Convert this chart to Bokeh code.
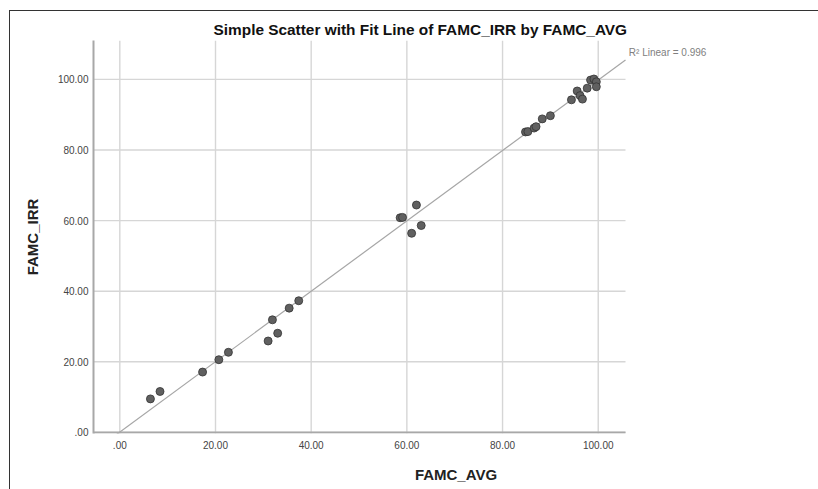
from bokeh.plotting import figure
from bokeh.models import Range1d, FixedTicker, ColumnDataSource
from bokeh.core.properties import value
from bokeh.embed import file_html
from bokeh.resources import INLINE

# ---- data ----
famc_avg = [6.4, 8.4, 17.3, 20.7, 22.7, 31.0, 33.0, 31.9, 35.4, 37.4,
            58.6, 59.1, 62.0, 63.0, 61.0,
            84.8, 85.3, 86.6, 87.0, 88.3, 90.0, 94.4, 95.6, 96.2, 96.7,
            97.7, 98.4, 99.1, 99.6, 99.6]
famc_irr = [9.5, 11.6, 17.1, 20.6, 22.7, 25.9, 28.1, 31.9, 35.2, 37.3,
            60.8, 60.9, 64.4, 58.6, 56.4,
            85.1, 85.2, 86.2, 86.6, 88.8, 89.7, 94.2, 96.7, 95.4, 94.4,
            97.5, 99.8, 100.1, 99.3, 97.9]

fit_slope = 0.997
fit_intercept = 0.1
r2_text = "R\u00b2 Linear = 0.996"

x_ticks = [0, 20, 40, 60, 80, 100]
x_tick_labels = [".00", "20.00", "40.00", "60.00", "80.00", "100.00"]
y_ticks = [0, 20, 40, 60, 80, 100]
y_tick_labels = [".00", "20.00", "40.00", "60.00", "80.00", "100.00"]

# plotted area of the chart (axis extents)
x_lo, x_hi = -5.5, 105.7
y_lo, y_hi = -0.3, 111.0

FONT = "Liberation Sans"

W, H = 818, 489
ML, MT, MB = 93, 40, 56
px_per_x = (625 - 93) / (x_hi - x_lo)
frame_w = W - ML
x_view_hi = x_lo + frame_w / px_per_x

p = figure(width=W, height=H, output_backend="svg", toolbar_location=None,
           x_range=Range1d(x_lo, x_view_hi), y_range=Range1d(y_lo, y_hi),
           min_border_left=ML, min_border_right=0,
           min_border_top=MT, min_border_bottom=MB)

# chart border (left and top edge), painted behind the transparent canvas
p.styles = {"background": "linear-gradient(#333333, #333333) 9px 10px / 1px 100% no-repeat, "
                          "linear-gradient(#333333, #333333) 9px 10px / 100% 1px no-repeat, "
                          "#ffffff"}

p.outline_line_color = None
p.background_fill_color = "white"
p.border_fill_color = None

# title
p.title.text = "Simple Scatter with Fit Line of FAMC_IRR by FAMC_AVG"
p.title.text_font = FONT
p.title.text_font_size = "15.4px"
p.title.text_font_style = "bold"
p.title.text_color = "#111111"
p.title.align = "left"
p.title.offset = 120
p.title.standoff = 6

# axes
for ax in (p.xaxis[0], p.yaxis[0]):
    ax.axis_line_color = "#a8a8a8"
    ax.axis_line_width = 2
    ax.major_tick_line_color = None
    ax.minor_tick_line_color = None
    ax.major_tick_out = 0
    ax.major_tick_in = 0
    ax.major_label_text_font = FONT
    ax.major_label_text_font_size = "10px"
    ax.major_label_text_color = "#444444"
    ax.axis_label_text_font = FONT
    ax.axis_label_text_font_size = "15px"
    ax.axis_label_text_font_style = "bold"
    ax.axis_label_text_color = "#222222"

p.xaxis.axis_line_color = None  # drawn below, limited to the plotted area
p.xaxis.ticker = FixedTicker(ticks=x_ticks)
p.yaxis.ticker = FixedTicker(ticks=y_ticks)
p.xaxis.major_label_overrides = {t: s for t, s in zip(x_ticks, x_tick_labels)}
p.yaxis.major_label_overrides = {t: s for t, s in zip(y_ticks, y_tick_labels)}
p.xaxis.axis_label = "FAMC_AVG"
p.yaxis.axis_label = "FAMC_IRR"
p.xaxis.major_label_standoff = 7
p.yaxis.major_label_standoff = 5
p.xaxis.axis_label_standoff = 14
p.yaxis.axis_label_standoff = 14

p.grid.grid_line_color = None

# grid lines limited to the plotted area
GRID = "#d6d6d6"
p.segment(x0=x_ticks, y0=[y_lo] * len(x_ticks), x1=x_ticks, y1=[y_hi] * len(x_ticks),
          line_color=GRID, line_width=1.4)
p.segment(x0=[x_lo] * len(y_ticks), y0=y_ticks, x1=[x_hi] * len(y_ticks), y1=y_ticks,
          line_color=GRID, line_width=1.4)
# bottom axis line
p.segment(x0=[x_lo], y0=[0], x1=[x_hi], y1=[0], line_color="#a8a8a8", line_width=2)

# fit line across the axis range
fx = [x_lo, x_hi]
fy = [fit_slope * v + fit_intercept for v in fx]
p.line(fx, fy, line_color="#a6a6a6", line_width=1.2)

src = ColumnDataSource(dict(x=famc_avg, y=famc_irr))
p.scatter("x", "y", source=src, size=8, fill_color="#606060",
          line_color="#333333", line_width=0.8)

p.text(x=[106.4], y=[107.7], text=[r2_text], text_font=value(FONT),
       text_font_size="10px", text_color="#808080", text_baseline="middle")

open("out.html", "w").write(file_html(p, INLINE))
